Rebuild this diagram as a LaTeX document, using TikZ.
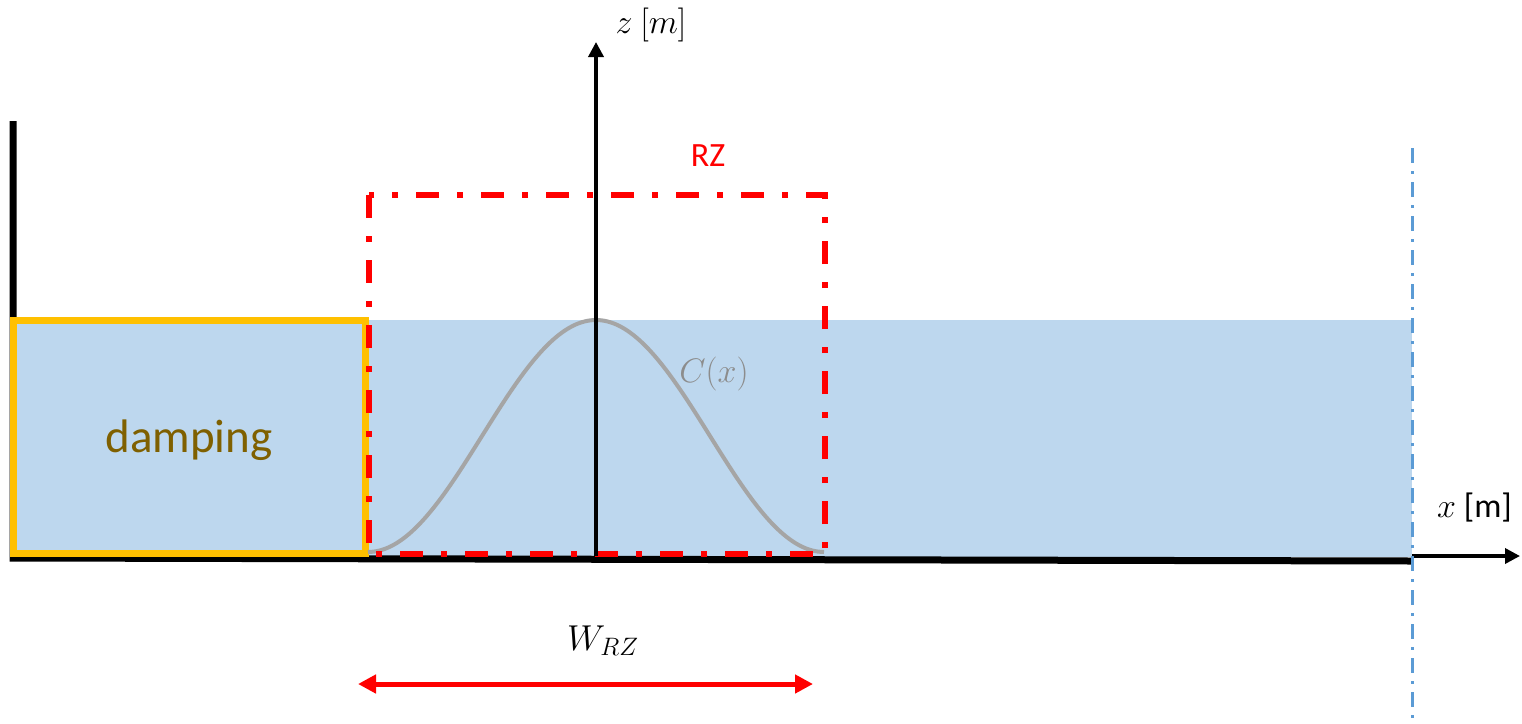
\RequirePackage{fix-cm}
\documentclass[tikz,border=0pt]{standalone}
\usepackage{fontspec}
\setmainfont{Carlito}
\usepackage{tikz}
\usetikzlibrary{arrows.meta,positioning,calc}
\definecolor{water}{HTML}{BDD7EE}
\definecolor{amber}{HTML}{FFC000}
\definecolor{darkgold}{HTML}{7F6000}
\definecolor{bump}{HTML}{A5A5A5}
\definecolor{bumptext}{HTML}{8C8C8C}
\definecolor{probe}{HTML}{5B9BD5}

\begin{document}
\begin{tikzpicture}[x=1pt,y=-1pt,
    axis/.style={line width=3.5pt,-{Triangle[length=15pt,width=15pt]}},
    rzline/.style={red,line width=6pt,dash pattern=on 23pt off 18pt on 6pt off 18pt},
    lbl/.style={inner sep=0pt,anchor=base}]
  \useasboundingbox (0,0) rectangle (1522,723);
  % water and damping zone
  \fill[water] (13,320) rectangle (1412,557);
  \draw[line width=7pt] (13,121) -- (13,558) -- (1412,561);
  \draw[amber,line width=7pt,fill=water] (13,320) rectangle (365,553);
  \node[lbl,font=\fontsize{47}{56}\selectfont\color{darkgold}] (damp) at (189,452) {damping};
  % relaxation function
  \draw[bump,line width=4pt,domain=-228:228,samples=80,smooth] plot ({596+\x},{552-116*(1+cos(\x/228*180))});
  \node[lbl,font=\fontsize{34}{40}\selectfont\color{bumptext}] (cx) at (714,382) {$C(x)$};
  % relaxation zone
  \draw[rzline] (369,195) rectangle (825,554);
  \node[lbl,font=\fontsize{34}{40}\selectfont\color{red}] (rz) at (708,166) {RZ};
  % axes
  \coordinate (O) at (596,556);
  \coordinate (ztop) at (596,42);
  \coordinate (xo) at (1412,556);
  \coordinate (xend) at (1520,556);
  \draw[axis] (O) -- (ztop);
  \draw[axis] (xo) -- (xend);
  \node[lbl,font=\fontsize{34}{40}\selectfont] (zlab) at (651,33) {$z\ [m]$};
  \node[lbl,anchor=base west,font=\fontsize{34}{40}\selectfont] (xlab) at (1437,517) {$x$ [m]};
  % outlet probe
  \coordinate (ptop) at (1412,148);
  \coordinate (pbot) at (1412,723);
  \draw[probe,line width=3pt,dash pattern=on 15pt off 8pt on 3pt off 8pt] (ptop) -- (pbot);
  % width of the zone
  \coordinate (wl) at (358,684);
  \coordinate (wr) at (813,684);
  \draw[red,line width=5pt,{Triangle[length=18pt,width=18pt]}-{Triangle[length=18pt,width=18pt]}] (wl) -- (wr);
  \node[lbl,anchor=base west,font=\fontsize{36}{42}\selectfont] (wlab) at (567,650) {$W_{RZ}$};
\end{tikzpicture}
\end{document}
